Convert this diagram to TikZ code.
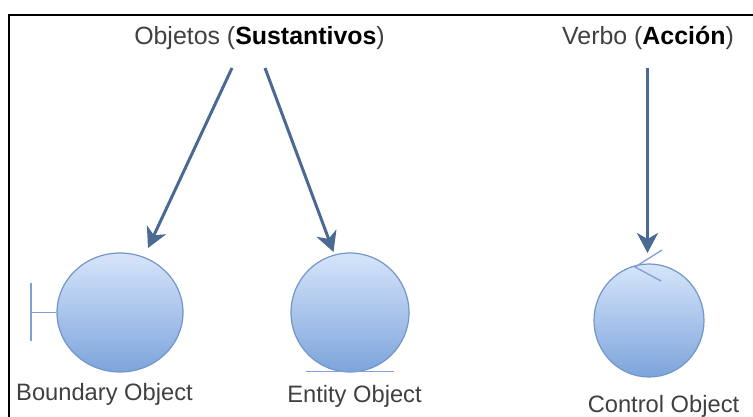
\documentclass[tikz,border=0pt]{standalone}
\usepackage{fontspec}
\setmainfont{Liberation Sans}
\usetikzlibrary{arrows.meta,shapes.geometric}
\definecolor{arrowc}{HTML}{4A6A94}
\definecolor{linec}{HTML}{7FA0D4}
\definecolor{rimc}{HTML}{7396C8}
\definecolor{topc}{HTML}{D6E5FA}
\definecolor{botc}{HTML}{7DA4DC}
\definecolor{textc}{HTML}{404040}
\tikzset{
  objball/.style={ellipse,inner sep=0pt,draw=rimc,line width=1.2pt,top color=topc,bottom color=botc,middle color=topc!50!botc},
  glyph/.style={draw=linec,line width=1.3pt},
  flow/.style={draw=arrowc,line width=3pt,-{Stealth[length=20pt,width=21pt,inset=6pt]}},
  lbl/.style={inner sep=0pt,text=textc,font=\fontsize{23.7}{26}\selectfont,anchor=base},
  ttl/.style={inner sep=0pt,text=textc,font=\fontsize{24.9}{28}\selectfont,anchor=base},
}
\begin{document}
\begin{tikzpicture}[x=1pt,y=-1pt]
\useasboundingbox (0,0) rectangle (753,417);
\fill[white] (0,0) rectangle (753,417);
\draw[black,line width=2.2pt] (9,417) -- (9,15) -- (753,15);
\node[ttl] (t1) at (259.5,45) {Objetos (\textbf{\textcolor{black}{Sustantivos}})};
\node[ttl] (t2) at (648,45) {Verbo (\textbf{\textcolor{black}{Acción}})};
\coordinate (a1) at (232,68);
\coordinate (a2) at (265,68);
\coordinate (a3) at (647.5,68);
\coordinate (h1) at (148,248);
\coordinate (h2) at (333.5,252);
\coordinate (h3) at (647.5,253);
\node[objball,minimum width=126pt,minimum height=119pt] (b) at (120,312.5) {};
\node[objball,minimum width=118pt,minimum height=119pt] (e) at (350,312.5) {};
\node[objball,minimum width=110pt,minimum height=113pt] (c) at (649,320.5) {};
\draw[flow] (a1) -- (h1);
\draw[flow] (a2) -- (h2);
\draw[flow] (a3) -- (h3);
\coordinate (bt) at (31,283);
\coordinate (bb) at (31,341);
\coordinate (bm) at (31,312.5);
\draw[glyph] (bt) -- (bb);
\draw[glyph] (bm) -- (b.west);
\coordinate (el) at (306,371.5);
\coordinate (er) at (394,371.5);
\draw[glyph] (el) -- (er);
\coordinate (c1) at (662,250);
\coordinate (c2) at (635,267);
\coordinate (c3) at (661,281);
\draw[glyph] (c1) -- (c2) -- (c3);
\node[lbl] (l1) at (104.5,400) {Boundary Object};
\node[lbl] (l2) at (354.5,402) {Entity Object};
\node[lbl] (l3) at (663.5,412) {Control Object};
\end{tikzpicture}
\end{document}
